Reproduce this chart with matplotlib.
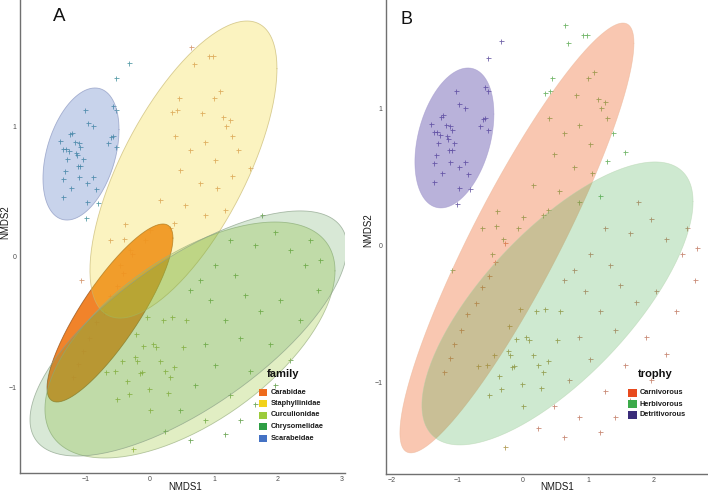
"""NMDS ordination of beetle samples: ellipses by family (A) and by trophy (B)."""

import matplotlib
matplotlib.use("Agg")
import matplotlib.pyplot as plt
from matplotlib.patches import Rectangle
import numpy as np

plt.rcParams["font.family"] = ["Liberation Sans", "DejaVu Sans"]

# --- sample scores (NMDS1, NMDS2), grouped by family -------------------------
scarab_x = [-1.02, -0.97, -0.89, -1.22, -1.25, -1.41, -1.17, -1.11, -1.09, -1.36,
            -1.31, -1.27, -1.16, -1.14, -1.05, -1.30, -1.33, -1.13, -1.09, -1.36,
            -1.11, -0.89, -0.98, -1.23, -0.84, -1.36, -0.98, -0.81, -1.00, -0.58,
            -0.53, -0.58, -0.61, -0.66, -0.53, -0.53, -0.33]
scarab_y = [1.13, 1.03, 1.00, 0.95, 0.94, 0.89, 0.88, 0.87, 0.84, 0.83,
            0.83, 0.81, 0.80, 0.78, 0.75, 0.75, 0.66, 0.70, 0.70, 0.60,
            0.61, 0.61, 0.57, 0.53, 0.52, 0.46, 0.42, 0.41, 0.30, 1.16,
            1.13, 0.93, 0.92, 0.87, 0.84, 1.37, 1.49]

staph_x = [0.64, 0.92, 0.98, 0.69, 1.09, 1.00, 0.45, 0.42, 0.34, 0.81,
           1.14, 1.25, 1.19, 1.28, 0.39, 0.63, 0.86, 1.02, 1.38, 0.47,
           0.78, 1.05, 1.28, 1.56, 0.16, 0.55, 0.86, 1.17, 0.00, 0.31,
           -0.31, -0.08, -0.47, -0.63, -0.39, -0.41, 0.38, -1.08]
staph_y = [1.61, 1.54, 1.54, 1.48, 1.27, 1.22, 1.22, 1.13, 1.11, 1.10,
           1.07, 1.05, 1.00, 0.93, 0.93, 0.82, 0.88, 0.74, 0.82, 0.67,
           0.57, 0.53, 0.62, 0.68, 0.44, 0.40, 0.32, 0.36, 0.21, 0.22,
           0.05, 0.13, -0.06, 0.13, 0.25, 0.14, 0.26, -0.18]

carab_x = [-1.20, -1.05, -0.85, -0.62, -0.42, -0.28, -0.95, -1.12, -0.52, -0.72]
carab_y = [-0.92, -0.72, -0.50, -0.30, -0.12, 0.02, -0.62, -0.82, -0.22, -0.42]

curc_x = [-0.05, 0.20, 0.34, 0.56, -0.22, -0.11, 0.05, 0.09, 0.52, -0.23,
          -0.20, -0.44, -0.69, -0.55, -0.16, -0.13, 0.16, 0.38, 0.23, 0.31,
          -0.36, -0.02, -0.33, 0.28, -0.52, 0.00, -0.27]
curc_y = [-0.46, -0.48, -0.46, -0.48, -0.59, -0.68, -0.67, -0.69, -0.69, -0.77,
          -0.80, -0.80, -0.88, -0.87, -0.89, -0.88, -0.80, -0.84, -0.87, -0.92,
          -0.95, -1.01, -1.05, -1.04, -1.09, -1.17, -1.47]

chrys_x = [0.78, 1.02, 1.33, 1.64, 1.75, 1.95, 2.19, 2.42, 2.63, 1.48,
           1.72, 2.03, 2.34, 1.17, 1.41, 1.88, 2.19, 0.86, 1.02, 1.56,
           1.95, 0.70, 1.25, 1.64, 0.47, 0.86, 0.23, 0.63, 0.94, 0.63,
           1.25, 2.50, 2.66, 1.41, 1.17]
chrys_y = [-0.18, -0.06, -0.14, 0.09, 0.32, 0.19, 0.05, -0.06, -0.25, -0.29,
           -0.41, -0.33, -0.48, -0.48, -0.62, -0.67, -0.79, -0.67, -0.83, -0.87,
           -0.98, -0.98, -1.06, -1.13, -1.17, -1.25, -1.33, -1.40, -0.33, -0.25,
           0.13, 0.13, -0.02, -1.25, -1.36]

# --- ellipses: centre, half width, half height, x offset of the top point ----
family_names = ["Carabidae", "Staphyllinidae", "Curculionidae", "Chrysomelidae", "Scarabeidae"]
family_ell_cx = [-0.625, 0.523, 0.625, 0.602, -1.078]
family_ell_cy = [-0.429, 0.670, -0.636, -0.586, 0.789]
family_ell_hw = [0.984, 1.461, 2.266, 2.477, 0.594]
family_ell_hh = [0.682, 1.138, 0.904, 0.939, 0.506]
family_ell_dx = [0.828, 0.992, 1.328, 1.742, 0.219]

trophy_names = ["Carnivorous", "Herbivorous", "Detritivorous"]
trophy_ell_cx = [-0.092, 0.527, -1.046]
trophy_ell_cy = [0.055, -0.423, 0.785]
trophy_ell_hw = [1.786, 2.069, 0.603]
trophy_ell_hh = [1.569, 1.033, 0.511]
trophy_ell_dx = [1.618, 1.489, 0.206]

# --- styling ------------------------------------------------------------------
family_key = ["#EE6C1E", "#F2D21A", "#9CCB3B", "#2E9E44", "#4472C4"]
family_fill = [("#F07818", 0.92), ("#F2DA30", 0.30), ("#9CC83A", 0.30),
               ("#4E9A48", 0.22), ("#4A6FC0", 0.30)]
family_edge = ["#8A4A10", "#C8B870", "#9AB080", "#8AA088", "#8A96C0"]
trophy_key = ["#E84A1E", "#3CAA4A", "#3A2C7A"]
trophy_fill = [("#F06E32", 0.38), ("#3CAA46", 0.25), ("#5A48A8", 0.42)]
trophy_edge = ["#E8B090", "#B0D0A8", "#9A90C8"]

groups = [(carab_x, carab_y), (staph_x, staph_y), (curc_x, curc_y),
          (chrys_x, chrys_y), (scarab_x, scarab_y)]
point_col_a = ["#D06A5A", "#D08C60", "#8AA83A", "#5A9A40", "#3E8E9A"]
point_col_b = ["#C87850", "#5AAA50", "#A89040", "#C07860", "#5A4A9A"]

W, H = 708, 491


def fx(px):
    return px / W


def fy(py):
    return 1 - py / H


def ellipse_xy(cx, cy, hw, hh, dx, n=200):
    """Outline of an ellipse with the given bounding box and top-point offset."""
    t = np.linspace(0, 2 * np.pi, n)
    b = dx * hh / hw
    c = np.sqrt(hh ** 2 - b ** 2)
    return cx + hw * np.cos(t), cy + b * np.cos(t) + c * np.sin(t)


def style_axes(ax, xlim, ylim, xticks, yticks, xlab_pos, ylab_pos):
    ax.set_xlim(*xlim)
    ax.set_ylim(*ylim)
    ax.set_xticks(xticks)
    ax.set_yticks(yticks)
    for side in ("top", "right"):
        ax.spines[side].set_visible(False)
    for side in ("left", "bottom"):
        ax.spines[side].set_color("#707070")
        ax.spines[side].set_linewidth(1.0)
    ax.tick_params(length=0, labelsize=5, labelcolor="#4D4D4D", pad=2.5)
    ax.set_xlabel("NMDS1", fontsize=7, color="#1A1A1A")
    ax.set_ylabel("NMDS2", fontsize=7, color="#1A1A1A")
    ax.xaxis.set_label_coords(*xlab_pos)
    ax.yaxis.set_label_coords(*ylab_pos)
    ax.set_facecolor("none")


def draw_key(fig, title, names, colors, title_x, title_y, patch_x, patch_w,
             first_y, step, patch_h, text_x):
    fig.text(fx(title_x), fy(title_y), title, fontsize=8, fontweight="bold",
             color="#111111", va="baseline")
    for i, (name, col) in enumerate(zip(names, colors)):
        yc = first_y + i * step
        fig.patches.append(Rectangle((fx(patch_x), fy(yc + patch_h / 2)),
                                     patch_w / W, patch_h / H,
                                     transform=fig.transFigure, facecolor=col,
                                     edgecolor="none"))
        fig.text(fx(text_x), fy(yc), name, fontsize=5.3, fontweight="semibold",
                 color="#1A1A1A", va="center")


fig = plt.figure(figsize=(7.08, 4.91), dpi=100)

# ---------------- panel A ----------------
ax_a = fig.add_axes([fx(20), fy(473), (345 - 20) / W, 473 / H])
for (gx, gy), col in zip(groups, point_col_a):
    ax_a.plot(gx, gy, "+", color=col, markersize=3.6, markeredgewidth=0.6,
              alpha=0.85, zorder=1)
for i in range(len(family_names)):
    ex, ey = ellipse_xy(family_ell_cx[i], family_ell_cy[i], family_ell_hw[i],
                        family_ell_hh[i], family_ell_dx[i])
    col, alpha = family_fill[i]
    ax_a.fill(ex, ey, facecolor=col, alpha=alpha, edgecolor="none", zorder=2 + i)
    ax_a.plot(ex, ey, color=family_edge[i], linewidth=0.6, alpha=0.7, zorder=2 + i)
style_axes(ax_a, (-2.031, 3.047), (-1.655, 1.969), [-1, 0, 1, 2, 3], [-1, 0, 1],
           (0.508, -0.018), (-0.030, 0.531))
fig.text(fx(53), fy(21), "A", fontsize=13.5, color="#111111", va="baseline")
draw_key(fig, "family", family_names, family_key, 267, 377, 259, 8, 392, 11.5, 7, 271)

# ---------------- panel B ----------------
ax_b = fig.add_axes([fx(386), fy(474), (708 - 386) / W, 474 / H])
for (gx, gy), col in zip(groups, point_col_b):
    ax_b.plot(gx, gy, "+", color=col, markersize=3.6, markeredgewidth=0.6,
              alpha=0.85, zorder=1)
for i in range(len(trophy_names)):
    ex, ey = ellipse_xy(trophy_ell_cx[i], trophy_ell_cy[i], trophy_ell_hw[i],
                        trophy_ell_hh[i], trophy_ell_dx[i])
    col, alpha = trophy_fill[i]
    ax_b.fill(ex, ey, facecolor=col, alpha=alpha, edgecolor="none", zorder=2 + i)
    ax_b.plot(ex, ey, color=trophy_edge[i], linewidth=0.5, alpha=0.5, zorder=2 + i)
style_axes(ax_b, (-2.09, 2.824), (-1.668, 1.792), [-2, -1, 0, 1, 2], [-1, 0, 1],
           (0.531, -0.017), (-0.040, 0.515))
fig.text(fx(400), fy(24), "B", fontsize=13, color="#111111", va="baseline")
draw_key(fig, "trophy", trophy_names, trophy_key, 638, 377, 628, 9, 393, 11, 8.5, 640)

fig.savefig("out.png", dpi=100)
